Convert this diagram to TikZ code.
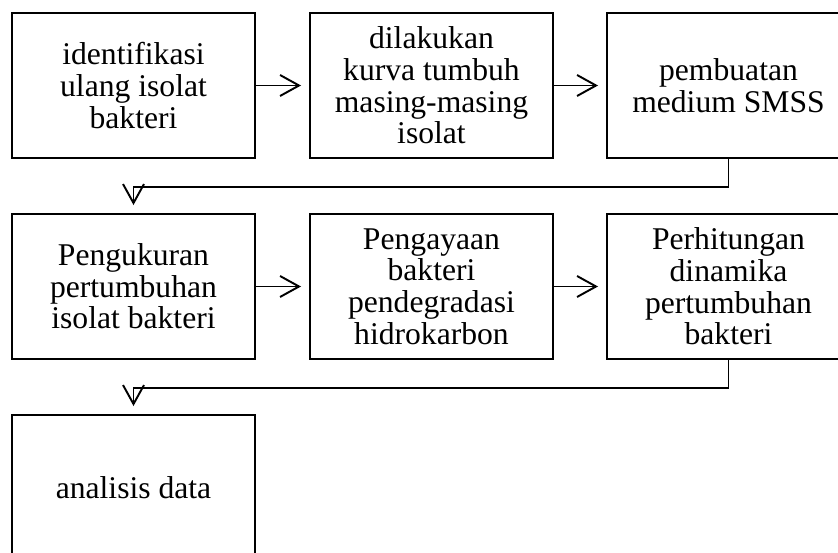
\documentclass[tikz,border=0pt]{standalone}
\usepackage{fontspec}
\setmainfont{Liberation Serif}
\usepackage{tikz}
\usetikzlibrary{arrows.meta}

\begin{document}
\begin{tikzpicture}[
	box/.style={draw,line width=1.1pt,minimum width=4.86cm,minimum height=2.9cm,inner sep=0pt,align=center,font=\fontsize{18}{18}\selectfont},
	link/.style={->,line width=1.1pt,shorten >=0.16cm},
	>={Straight Barb[length=0.38cm,width=0.42cm]}]
	\useasboundingbox (0,0) rectangle (16.76,-11.06);
	\clip (0,0) rectangle (16.76,-11.06);
	%first row
	\node[box] (R1_N1) at (2.67,-1.71) {identifikasi\\ulang isolat\\bakteri};
	\node[box] (R1_N2) at (8.63,-1.71) {dilakukan\\kurva tumbuh\\masing-masing\\isolat};
	\node[box] (R1_N3) at (14.57,-1.71) {pembuatan\\medium SMSS};
	\draw[link] (R1_N1) to (R1_N2);
	\draw[link] (R1_N2) to (R1_N3);
	
	%second row
	\node[box] (R2_N1) at (2.67,-5.73) {Pengukuran\\pertumbuhan\\isolat bakteri};
	\node[box] (R2_N2) at (8.63,-5.73) {Pengayaan\\bakteri\\pendegradasi\\hidrokarbon};
	\node[box] (R2_N3) at (14.57,-5.73) {Perhitungan\\dinamika\\pertumbuhan\\bakteri};
	\draw[link] (R2_N1) to (R2_N2);
	\draw[link] (R2_N2) to (R2_N3);
	\draw[link] (R1_N3.south) -- ++(0,-0.56) -| (R2_N1.north);
	
	%third row
	\node[box] (R3_N1) at (2.67,-9.75) {analisis data};
	\draw[link] (R2_N3.south) -- ++(0,-0.56) -| (R3_N1.north);
\end{tikzpicture}
\end{document}
